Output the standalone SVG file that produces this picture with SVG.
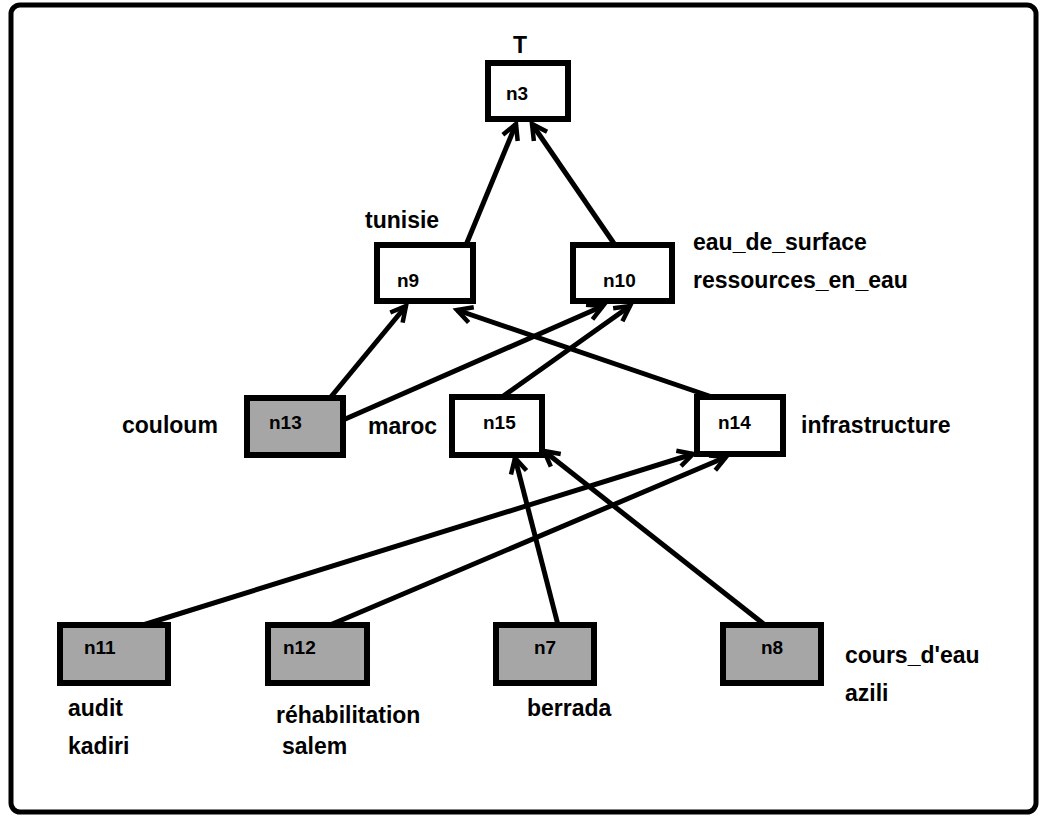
<svg xmlns="http://www.w3.org/2000/svg" width="1040" height="816" viewBox="0 0 1040 816">
<defs>
<marker id="arr" markerUnits="userSpaceOnUse" markerWidth="30" markerHeight="30" viewBox="-20 -15 30 30" refX="0" refY="0" orient="auto">
<path d="M-15,-8 L0,0 L-15,8" fill="none" stroke="#000" stroke-width="4.5" stroke-linejoin="miter"/>
</marker>
</defs>
<style>
.box{fill:#fff;stroke:#000;stroke-width:6}
.shaded{fill:#a6a6a6;stroke:#000;stroke-width:6}
.id{font-family:"Liberation Sans",Arial,sans-serif;font-weight:bold;font-size:19px;fill:#000}
.lbl{font-family:"Liberation Sans",Arial,sans-serif;font-weight:bold;font-size:23px;fill:#000}
.edge{stroke:#000;stroke-width:5;fill:none;marker-end:url(#arr)}
</style>
<rect x="11" y="5" width="1025" height="807" rx="9" fill="#fff" stroke="#000" stroke-width="5"/>
<g id="connectors">
<line class="edge" x1="466" y1="245" x2="516" y2="124"/>
<line class="edge" x1="615" y1="245" x2="532" y2="124"/>
<line class="edge" x1="330" y1="398" x2="406" y2="306"/>
<line class="edge" x1="715" y1="398" x2="457" y2="310"/>
<line class="edge" x1="343" y1="420" x2="603" y2="306"/>
<line class="edge" x1="502" y1="397" x2="630" y2="306"/>
<line class="edge" x1="558" y1="625" x2="515" y2="458"/>
<line class="edge" x1="765" y1="625" x2="544" y2="451"/>
<line class="edge" x1="143" y1="625" x2="693" y2="454"/>
<line class="edge" x1="330" y1="625" x2="726" y2="457"/>
</g>
<g id="n3">
<rect class="box" x="488" y="63" width="80" height="56"/>
<text class="id" x="506" y="100">n3</text>
<text class="lbl" x="513" y="53">T</text>
</g>
<g id="n9">
<rect class="box" x="377" y="245" width="96" height="56"/>
<text class="id" x="397" y="287">n9</text>
<text class="lbl" x="365" y="228">tunisie</text>
</g>
<g id="n10">
<rect class="box" x="573" y="245" width="99" height="56"/>
<text class="id" x="603" y="287">n10</text>
<text class="lbl" x="693" y="250">eau_de_surface</text>
<text class="lbl" x="693" y="288">ressources_en_eau</text>
</g>
<g id="n13">
<rect class="shaded" x="247" y="398" width="96" height="57"/>
<text class="id" x="269" y="429">n13</text>
<text class="lbl" x="122" y="433">couloum</text>
</g>
<g id="n15">
<rect class="box" x="452" y="397" width="90" height="58"/>
<text class="id" x="483" y="429">n15</text>
<text class="lbl" x="368" y="434">maroc</text>
</g>
<g id="n14">
<rect class="box" x="697" y="397" width="86" height="57"/>
<text class="id" x="718" y="429">n14</text>
<text class="lbl" x="801" y="433">infrastructure</text>
</g>
<g id="n11">
<rect class="shaded" x="60" y="625" width="108" height="58"/>
<text class="id" x="84" y="654">n11</text>
<text class="lbl" x="68" y="716">audit</text>
<text class="lbl" x="68" y="754">kadiri</text>
</g>
<g id="n12">
<rect class="shaded" x="268" y="625" width="99" height="58"/>
<text class="id" x="283" y="654">n12</text>
<text class="lbl" x="276" y="723">réhabilitation</text>
<text class="lbl" x="282" y="754">salem</text>
</g>
<g id="n7">
<rect class="shaded" x="496" y="625" width="98" height="58"/>
<text class="id" x="534" y="654">n7</text>
<text class="lbl" x="527" y="716">berrada</text>
</g>
<g id="n8">
<rect class="shaded" x="723" y="625" width="98" height="58"/>
<text class="id" x="761" y="654">n8</text>
<text class="lbl" x="845" y="663">cours_d'eau</text>
<text class="lbl" x="845" y="701">azili</text>
</g>
</svg>
